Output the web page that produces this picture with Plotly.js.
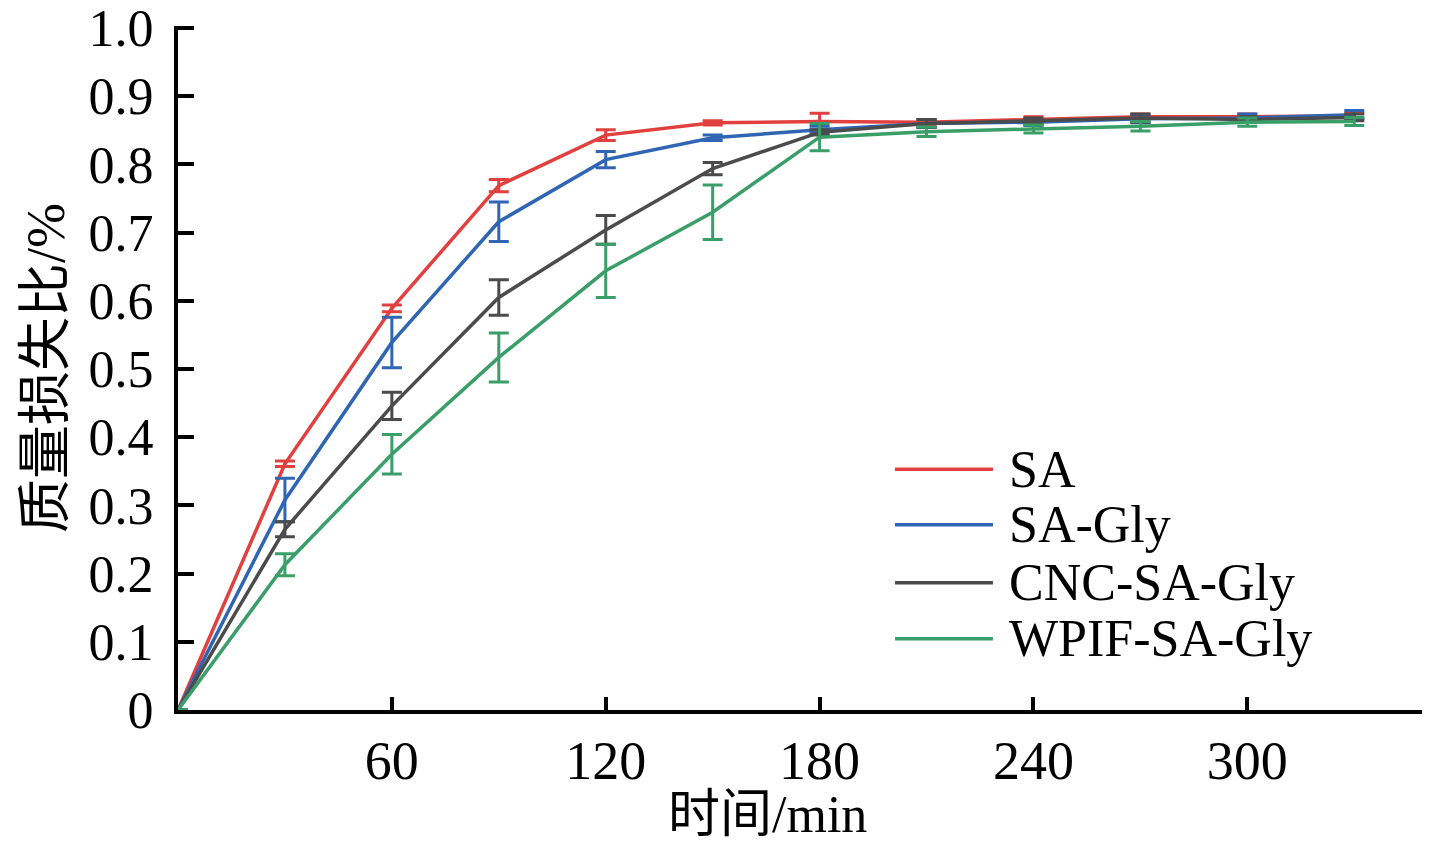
<!DOCTYPE html>
<html>
<head>
<meta charset="utf-8">
<script src="https://cdn.plot.ly/plotly-3.0.1.min.js"></script>
<style>
  html, body { margin: 0; padding: 0; background: #fff; }
  #chart { width: 1429px; height: 847px; }
</style>
</head>
<body>
<div id="chart"></div>
<script>
// time points (min)
var time = [0, 30, 60, 90, 120, 150, 180, 210, 240, 270, 300, 330];

var seriesNames = ["SA", "SA-Gly", "CNC-SA-Gly", "WPIF-SA-Gly"];
var seriesColors = ["#e2403f", "#2f65b3", "#4b4b4b", "#3a9e68"];

// mass loss ratio
var saLoss    = [0, 0.361, 0.589, 0.769, 0.843, 0.861, 0.863, 0.862, 0.866, 0.870, 0.870, 0.871];
var saGlyLoss = [0, 0.308, 0.539, 0.716, 0.807, 0.839, 0.851, 0.860, 0.862, 0.867, 0.868, 0.873];
var cncLoss   = [0, 0.265, 0.446, 0.605, 0.704, 0.794, 0.847, 0.860, 0.864, 0.868, 0.866, 0.869];
var wpifLoss  = [0, 0.213, 0.375, 0.517, 0.644, 0.730, 0.840, 0.848, 0.852, 0.856, 0.862, 0.863];

// error bars (+/-)
var saErr    = [null, 0.004, 0.005, 0.009, 0.008, 0.003, 0.012, 0.004, 0.004, 0.004, 0.004, 0.004];
var saGlyErr = [null, 0.032, 0.037, 0.029, 0.012, 0.004, 0.005, 0.006, 0.005, 0.006, 0.006, 0.006];
var cncErr   = [null, 0.011, 0.020, 0.026, 0.021, 0.009, 0.004, 0.006, 0.004, 0.006, 0.004, 0.005];
var wpifErr  = [null, 0.016, 0.029, 0.036, 0.039, 0.040, 0.020, 0.007, 0.006, 0.007, 0.006, 0.006];

var xTicks = [60, 120, 180, 240, 300];
var yTicks = [0, 0.1, 0.2, 0.3, 0.4, 0.5, 0.6, 0.7, 0.8, 0.9, 1.0];
var yTickText = ["0", "0.1", "0.2", "0.3", "0.4", "0.5", "0.6", "0.7", "0.8", "0.9", "1.0"];

var xTitle = "时间/min";
var yTitle = "质量损失比/%";

var allLoss = [saLoss, saGlyLoss, cncLoss, wpifLoss];
var allErr = [saErr, saGlyErr, cncErr, wpifErr];

var serif = "'Liberation Serif', 'Times New Roman', 'Noto Sans CJK SC', serif";

var data = seriesNames.map(function(name, i) {
	return {
		x: time,
		y: allLoss[i],
		name: name,
		type: "scatter",
		mode: "lines",
		line: {color: seriesColors[i], width: 3.5},
		error_y: {
			type: "data",
			array: allErr[i],
			visible: true,
			color: seriesColors[i],
			thickness: 3,
			width: 10
		},
		showlegend: false
	};
});

// hand-drawn legend: long sample lines like the original figure
var legendY = [0.352, 0.271, 0.186, 0.104];
var shapes = [];
var annotations = [];
seriesNames.forEach(function(name, i) {
	shapes.push({
		type: "line", xref: "paper", yref: "paper",
		x0: 0.5764, x1: 0.6551, y0: legendY[i], y1: legendY[i],
		line: {color: seriesColors[i], width: 3.5}
	});
	annotations.push({
		xref: "paper", yref: "paper",
		x: 0.666, y: legendY[i],
		xanchor: "left", yanchor: "middle",
		text: name, showarrow: false,
		font: {family: serif, size: 52, color: "#000"}
	});
});

// x title sits a little left of centre in the original
annotations.push({
	xref: "paper", yref: "paper",
	x: 0.474, y: -0.153,
	xanchor: "center", yanchor: "middle",
	text: xTitle, showarrow: false,
	font: {family: serif, size: 52, color: "#000"}
});

var layout = {
	width: 1429,
	height: 847,
	margin: {l: 178, r: 7, t: 26, b: 137, pad: 0},
	paper_bgcolor: "#fff",
	plot_bgcolor: "#fff",
	font: {family: serif, color: "#000"},
	xaxis: {
		range: [0, 349],
		tickvals: xTicks,
		ticktext: xTicks.map(String),
		ticks: "inside",
		ticklen: 13,
		tickwidth: 4,
		tickcolor: "#000",
		ticklabelstandoff: 0,
		showline: true,
		linewidth: 4,
		linecolor: "#000",
		showgrid: false,
		zeroline: false,
		tickfont: {family: serif, size: 54}
	},
	yaxis: {
		range: [0, 1.003],
		tickvals: yTicks,
		ticktext: yTickText,
		ticks: "inside",
		ticklen: 16,
		tickwidth: 4,
		tickcolor: "#000",
		ticklabelstandoff: 10,
		ticklabeloverflow: "allow",
		showline: true,
		linewidth: 4,
		linecolor: "#000",
		showgrid: false,
		zeroline: false,
		tickfont: {family: serif, size: 52},
		title: {text: yTitle, font: {family: serif, size: 54}, standoff: 8}
	},
	shapes: shapes,
	annotations: annotations
};

Plotly.newPlot("chart", data, layout, {displayModeBar: false, staticPlot: true});
</script>
</body>
</html>
